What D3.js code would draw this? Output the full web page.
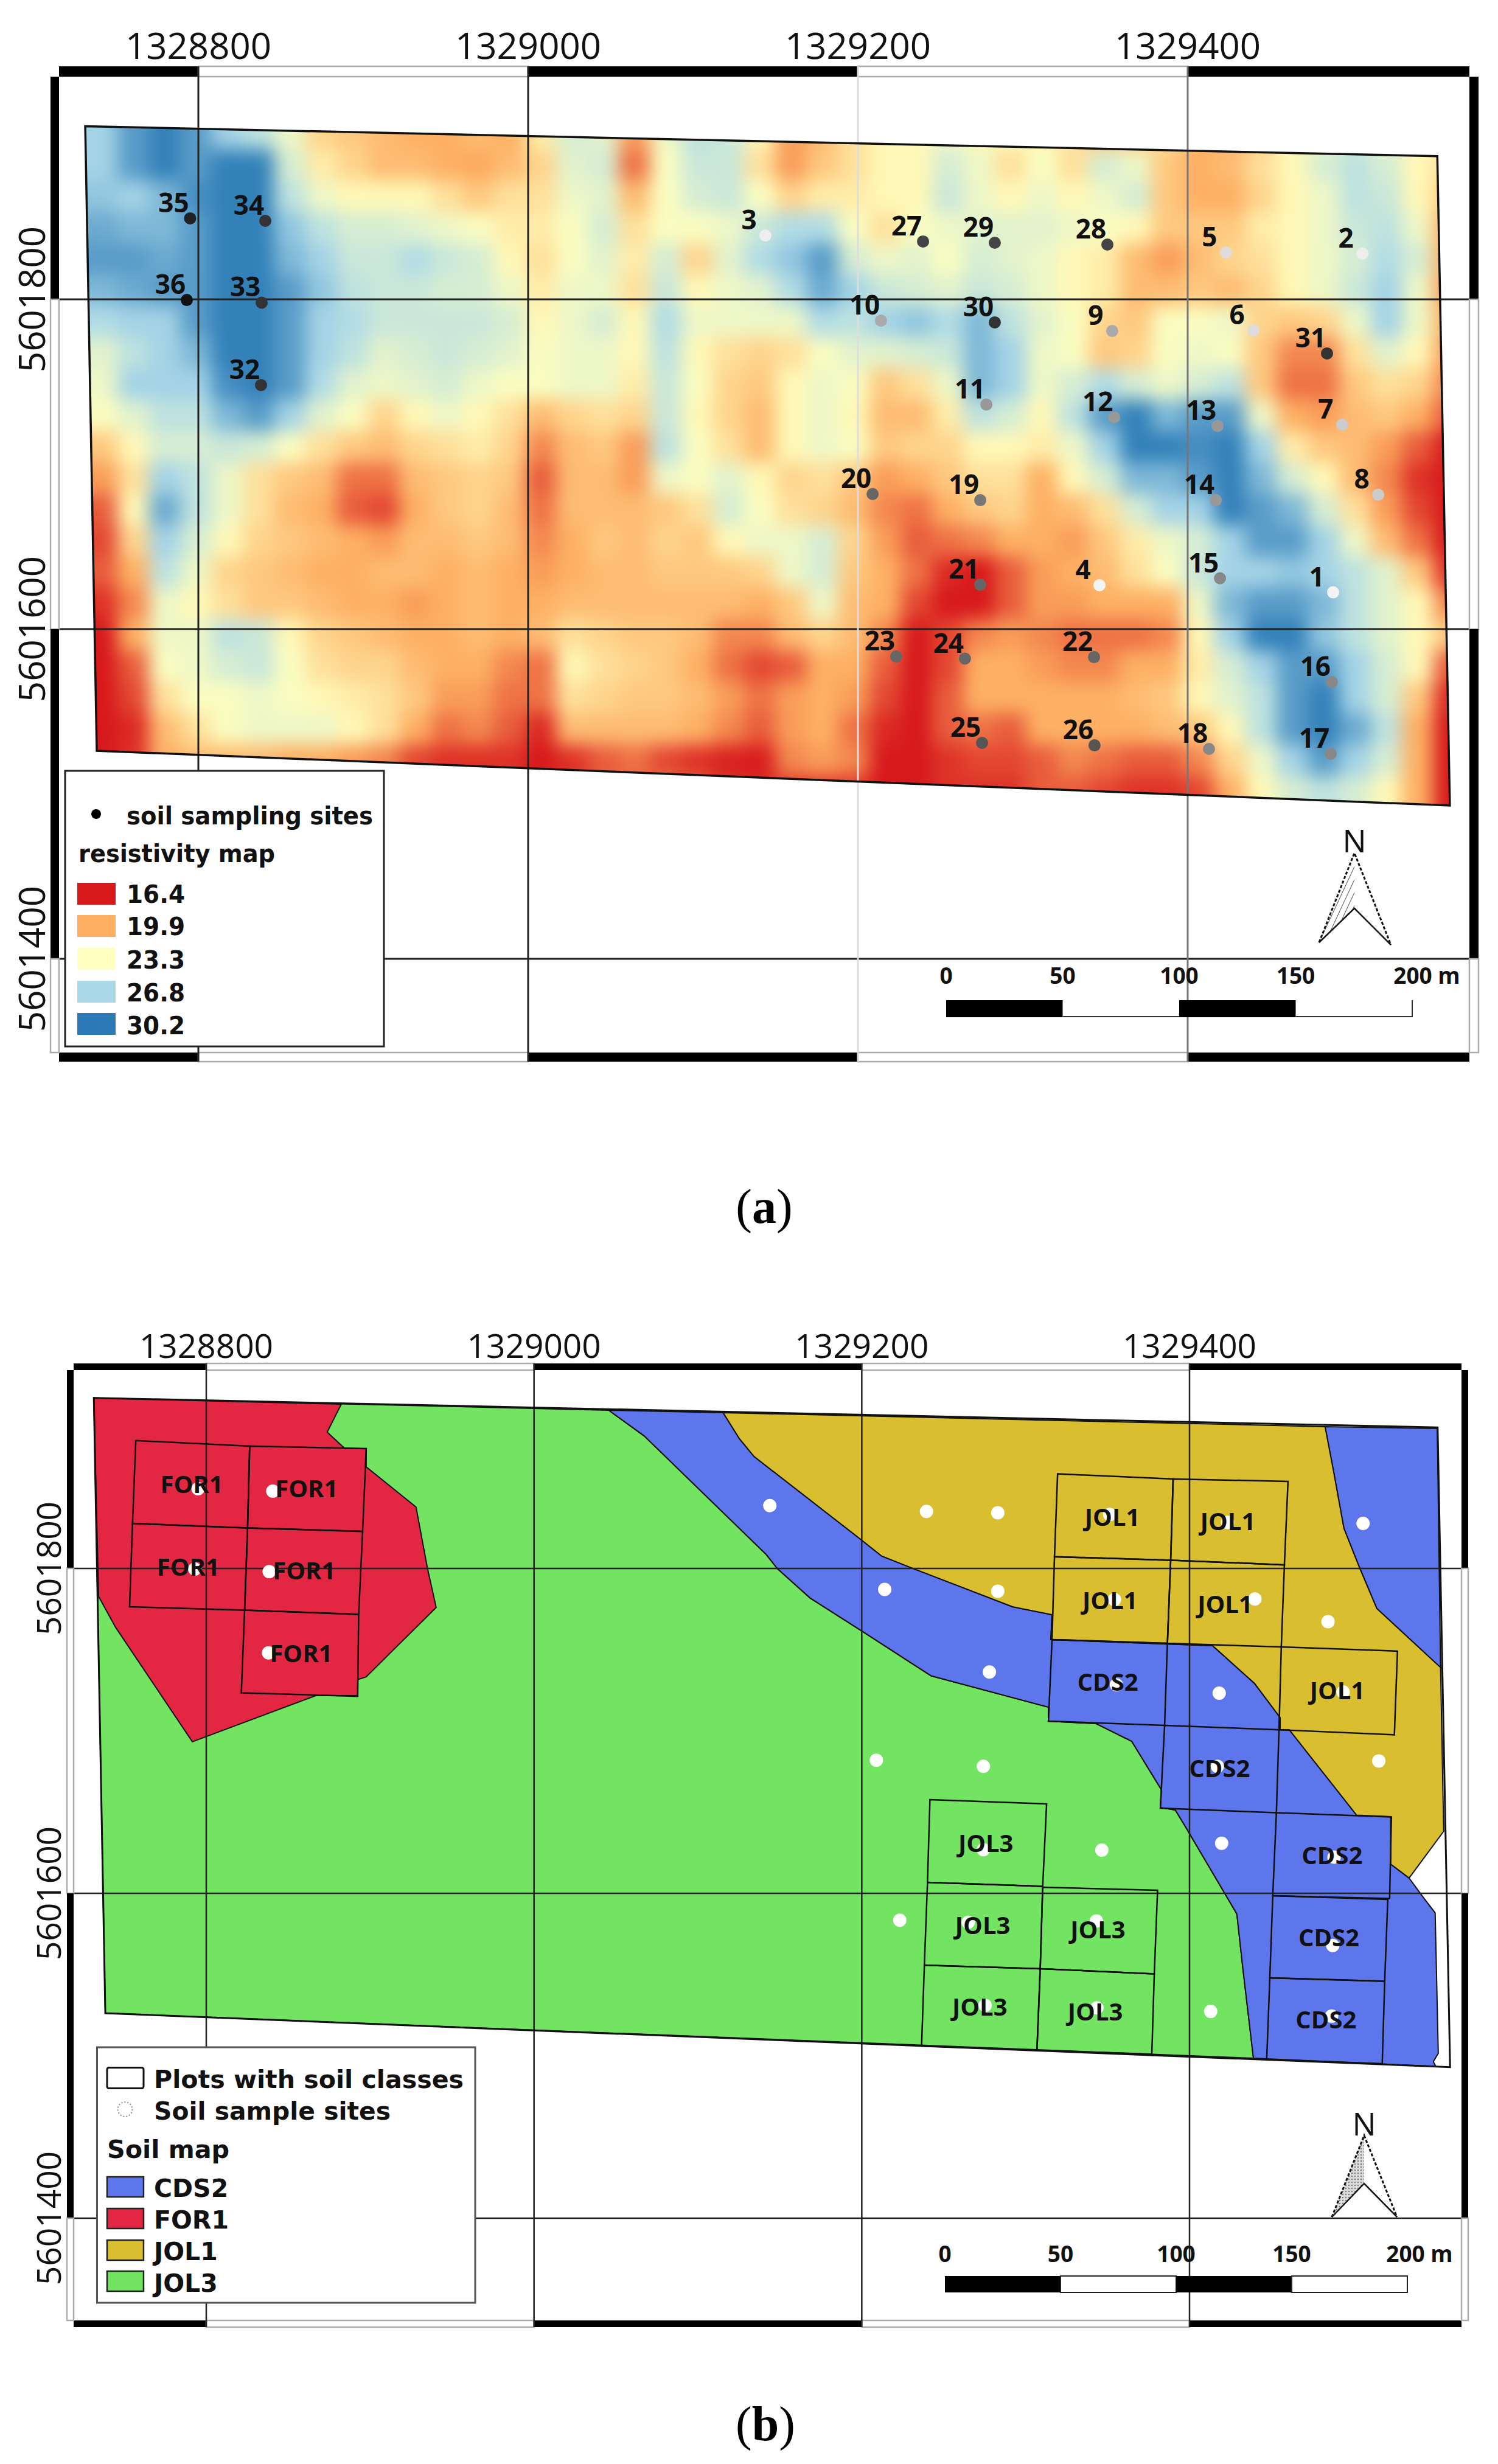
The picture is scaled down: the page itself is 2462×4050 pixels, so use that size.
<!DOCTYPE html>
<html><head><meta charset="utf-8">
<style>html,body{margin:0;padding:0;background:#fff}svg{display:block}</style>
<script src="https://cdnjs.cloudflare.com/ajax/libs/d3/7.8.5/d3.min.js"></script>
</head><body><div id="chart"></div>
<script>
// map coordinates are metres relative to these bases
const eastBase = 1328000, northBase = 5601000;
const eastTicks = [800,1000,1200,1400];
const northTicks = [800,600,400];

const legendBreaks = [16.4,19.9,23.3,26.8,30.2];
const legendColors = ['#d7191c','#fdae61','#ffffbf','#abd9e9','#2c7bb6'];

// resistivity raster: cell size, first cell corner, rows north to south
const cellM = 19, gridEast0 = 732, gridNorth0 = 910;
const resistivity = [
[27,29,30,29,27,26,24,21.5,21,20.5,20,20,20.5,20, 22.5,25,24.5,19.5,24,26,25.5,23,19.5,20.5,22,23,23, 24,23,23,23,22,21,21,22,20,20,21,23,24,25,24,23,23],
[27,29,30,29,30,30,25,22.5,21.5,20.5,20.5,20,19.8,20.5, 21.5,24.5,25,18.5,23.5,25.5,25.5,22,19.5,21,22,23,23, 25,24,22,23.5,22,25,24,21,20,20.5,22,23,25,26,25,23,22],
[27.5,27,28,29.5,30,30,26,24,23,23,23,22,21,22, 22,24,24.5,20.5,23.5,25,25.5,23.5,21.5,22.5,22.5,23,23, 25.5,24,23,24,23,24,25,21,20,20,21.5,23,24,26,25.5,23,21],
[28.5,28,28,29,30,30,27.5,26,25,25,24.5,24,23.5,22.5, 22.5,23.5,25,22,23.5,23.5,24,25.5,26.5,26.5,23.5,22,23.5, 24,24.5,24.5,24.5,24,23.5,23,21,21,21,22.5,23,24,25.5,26,24,20],
[29,29,28.5,29,30,30,28,27,25.5,25.5,26.5,25.5,25,23, 22,23.5,24.5,22.5,25,21.5,24.5,26.5,27.5,29,25,24,24.5, 23.5,25,24.5,24,23,22.5,20.5,19.5,20.5,21.5,22,23,24,25,26.5,25,20],
[28,28.5,29,29,30,30,29,27.5,26,25.5,25.5,25,25,24, 22.5,24,24,22,25.5,23,24,24.5,26.5,28.5,27,25.5,25, 24.5,25.5,25,24,23,22.5,20.5,20.5,21,20.5,21.5,23,24,25.5,27,24,19.5],
[26.5,27,27,29,30,30,29,27,26.5,25.5,25.5,25.5,25.5,25, 23,24,25,23,26.5,24,24,24,24,26.5,26,27,27.5, 26.5,28,26,24.5,23.5,21.5,21,23.5,23.5,24,21.5,21,21.5,24,27,24,20],
[24.5,26,27,28,30,30,29,27,26,24.5,25,25.5,25,24.5, 23.5,24,24,23,26,23,22,21.5,22,23.5,24.5,24.5,25, 25.5,28,27,24,23.5,21,21.5,23.5,24,23.5,21,19,19,22,24.5,23,19.5],
[24,27,27,27,29.5,30,29,26.5,24.5,24,24.5,25,24,23.5, 23.5,24,24,22.5,25.5,23.5,21.5,21,23,24,23.5,21,22, 24,28,27,24,25,26.5,25,24,25,26,21,18.5,18.5,21,22,21.5,19],
[23.5,24.5,26,26,28,29,27,24.5,23.5,21.5,23,24,23,22, 20.5,21.5,22,21.5,25.5,23,21.5,20.5,23,24,23,20.5,20.5, 22.5,26,25,23,26,29,30,28,29,29,24,20,19.5,20.5,21,20,18],
[21,23,25,25,25.5,25,23.5,22,21,20.5,21.5,22,22.5,21.5, 19,20.5,21,19.5,26,23.5,22,20.5,23,24,23.5,21,21.5, 21.5,23,23,22.5,24,27,30,30,29.5,30,27,22.5,21,20.5,19.5,18,16.5],
[19.5,22,27,26,24,22,21,20.5,18.5,18.5,20.5,21,21.5,21, 18,20.5,20.5,19.5,24,23.5,24.5,23,21.5,22,21,19.5,20, 21,22,22,20,23,25,28,28,29,30,28,25,23,20.5,19,17,16.4],
[18,23,28.5,26,24,22,20.5,20,18,17.5,20,21,21.5,20.5, 18.5,20.5,20.5,20.5,21,22,25,23.5,22,21.5,20.5,19,18.5, 20,21,21.5,20,20.5,22,25,27,27,30,29,28,25,22,19.5,17.5,16.4],
[17.5,21.5,27,25,23,21.5,21,20.5,20,19.5,20.5,20.5,21,20.5, 19,20,21,20.5,21.5,21,23,24,24,25,21.5,19.5,18, 18.5,19,20,20,19.5,21,22.5,24,25,27,29,29,27,24,20.5,18.5,16.4],
[18,20,26,24,21.5,21,20.5,20,20,20.5,20.5,20,20.5,20, 19.5,20,20.5,20.5,21,21,21,21.5,24,25,21,20,18.5, 16.8,16.4,18,19.5,20,20.5,22,23.5,25.5,27,27,27.5,27,26,24.5,21,17],
[17,19,24,23,22,21,21,20.5,20,20,19.5,20,20.5,20, 20,20.5,20.5,20.5,20.5,20.5,20.5,20,21,24,20.5,20,17.5, 16.4,16.4,18,19.5,19.5,20,20,20,24,28,29,29,28,26,24.5,23,19],
[16.4,20,24,24,26,25.5,23,21.5,21,20.5,20,20,20.5,20, 20.5,22,21.5,21,21,20.5,19,19,20.5,21.5,20.5,19,16.4, 17.5,19,19.5,19,18.5,18.5,18.5,19,23,27,30,30,27.5,26,24.5,23,21],
[16.4,18,23.5,24,25,25.5,23.5,22,21.5,21.5,20.5,20,20,19, 18.5,23,22,21.5,21,20,18.5,17.5,18,20,20,18,16.4, 17.5,20,20,19.5,19,19,20,20,22.5,25,27,29,29,27,25,23,18],
[16.4,17.5,22,23.5,23.5,24,23.5,23,22.5,22,21,19.5,19.5,18.5, 18.5,22,21.5,21,21,20.5,19.5,18.5,19.5,20,19.5,17.5,16.4, 18,20,20,20,20,20,20.5,21,23,24.5,26,29,30,27,25,21,16.8],
[16.4,16.8,20.5,22,23.5,24,24,24,23,22,20,18.5,19,18, 16.8,20.5,20.5,20.5,20.5,20,19,18,19.5,20,18.5,16.8,16.4, 18,18.5,18,20,20,20,20,20.5,21,23,26,29,30,28.5,26,20,16.4],
[16.4,17,20,20.5,20.5,20.5,20,20,19.5,19,17.5,17,17,17, 16.4,17,18,18.5,17.5,17,16.6,16.5,19,19.5,19,16.4,16.4, 17,17.5,17.5,18,19,18.5,18,18,19,21.5,24,27,29,27,25,20,16.4],
[16.4,17,20,20.5,20,20,20,20,19,18.5,17.5,17,17,17,16.4,17,18,18,18.5,18,17,16.8,17,17,17,16.4,16.4,17,17,17,18,18,17.5,17,17,17.5,20,23,25,26,25,23,20,16.4]
];

// field boundary and shared soil sampling sites [easting, northing]
const fieldOutline = [[731.4,905],[1551.4,886.8],[1559,493],[738.4,526.2]];
const siteIds = d3.range(1,37);
const siteEast = [1488.2,1505.9,1143.9,1346.5,1423.2,1439.9,1493.7,1515.5,1354.2,1214,1277.9,1355.4,1418.1,1417,1419.6,1487.4,1486.7,1412.9,1274.2,1208.9,1274.2,1343.2,1223.2,1264.9,1275.3,1343.5,1239.5,1351.3,1283,1283,1484.5,838,838.4,840.6,795,793];
const siteNorth = [622.3,827.7,838.7,626.6,828.4,781.2,724,681.5,780.8,787.1,736.2,728.4,723.2,678.2,630.8,567.9,524.4,527.3,678.2,681.9,626.9,583,583.4,582.1,531,529.5,835.1,833.2,834.3,786,767.2,748,798,847.6,849.1,799.6];
const siteShade = ['#f4f4f4','#eee','#eee','#f4f4f4','#ddd','#ddd','#ccc','#ccc','#aaa','#aaa','#999','#999','#999','#999','#888','#888','#888','#888','#777','#666','#666','#666','#666','#666','#555','#555','#444','#444','#444','#333','#333','#333','#333','#333','#222','#111'];

// soil map polygons
const edgeBlueGreen = [[1045.6,897.4],[1067.2,881.6],[1141.7,808.6],[1148.4,800],[1168.5,781.8],[1200.2,761.4],[1242.3,733.9],[1313.9,714.6],[1313.9,706],[1343,704.5],[1364.7,693.6],[1382.9,663.7],[1382.2,652.8],[1391.3,651.3],[1397,641.9],[1428.9,587.3],[1432.5,554.3],[1439,498.5]];
const edgeBlueYellow = [[1115.4,895.9],[1125.4,879.8],[1134.3,868.9],[1200.2,817.2],[1212.2,807.6],[1232.3,799.6],[1292,776.4],[1316.1,771.5],[1315.4,756.2],[1414.1,752.4],[1439.7,729.2],[1455.3,708.2],[1455.3,700.7],[1460.9,700.7],[1502,648.1],[1522.8,647.2],[1522.8,618],[1534,609.4]];
const polyJOL3 = [[731.4,905]].concat(edgeBlueGreen,[[738.4,526.2]]);
const polyCDS2a = [[1045.6,897.4]].concat(edgeBlueYellow,[[1543.2,596.8],[1549.9,588],[1551.8,501.5],[1548.8,496.4],[1550.3,493.4]],edgeBlueGreen.slice().reverse());
const polyCDS2b = [[1482.7,887.3],[1551.2,886.1],[1553.2,739],[1514.3,775.3],[1503.5,801.1],[1494.2,824.7],[1488,859.2]];
const polyJOL1 = [[1482.7,887.3],[1488,859.2],[1494.2,824.7],[1503.5,801.1],[1514.3,775.3],[1553.2,739],[1555.1,638.2]].concat(edgeBlueYellow.slice().reverse());
const polyFOR1 = [[731.4,905],[882.4,901.1],[873.8,883.9],[884.6,873.8],[897.6,873.8],[897.6,862.5],[928,837.8],[935,800],[940.3,776],[897.6,733.3],[892.4,731.5],[892.4,721.7],[866.8,721.7],[791.5,693.3],[744.7,763.7],[734.3,782.8]];
const soilClasses = ['CDS2','FOR1','JOL1','JOL3'];
const soilColors = ['#5e76ec','#e32642','#d9be30','#73e362'];

// plots with soil classes
const plotClass = ['FOR1','FOR1','FOR1','FOR1','FOR1','JOL1','JOL1','JOL1','JOL1','JOL1','CDS2','CDS2','CDS2','CDS2','CDS2','JOL3','JOL3','JOL3','JOL3','JOL3'];
const plotCorners = [
[[757,878.7],[826.5,875.3],[825.2,824.9],[755,827.7]],
[[826.5,875.3],[897.6,873.8],[895.4,822.8],[825.2,824.9]],
[[755,827.7],[825.2,824.9],[823.4,774.3],[753.2,776.4]],
[[825.2,824.9],[895.4,822.8],[893,771.7],[823.4,774.3]],
[[823.4,774.3],[893,771.7],[892.4,721.3],[821.4,723.4]],
[[1319.5,858.2],[1390,855.1],[1388.5,805.1],[1317.6,807.2]],
[[1390,855.1],[1460.1,853.6],[1457.9,802.2],[1388.5,805.1]],
[[1317.6,807.2],[1388.5,805.1],[1386.5,753.9],[1316.1,756.2]],
[[1388.5,805.1],[1457.9,802.2],[1456,751.7],[1386.5,753.9]],
[[1456,751.7],[1526.9,749.1],[1525,697.6],[1454.6,700.7]],
[[1316.1,756.2],[1386.5,753.9],[1384.8,703.4],[1313.9,706]],
[[1384.8,703.4],[1454.6,700.7],[1453,649.6],[1382.2,652.4]],
[[1453,649.6],[1523.2,647],[1522.1,596.8],[1450.8,598.5]],
[[1450.8,598.5],[1521,596.3],[1519.1,545.9],[1449,547.9]],
[[1449,547.9],[1519.1,545.9],[1517.6,495.1],[1447.1,497.8]],
[[1241.6,657.7],[1312.8,655.1],[1310.4,604.3],[1240.1,606.7]],
[[1240.1,606.7],[1310.4,604.3],[1308.9,553.6],[1238.2,555.8]],
[[1310.4,603.7],[1380.5,601.9],[1378.5,550.4],[1308.9,553.6]],
[[1238.2,555.8],[1308.9,553.6],[1306.9,503.4],[1236.5,506]],
[[1308.9,553.6],[1378.5,550.4],[1377,501],[1306.9,503.4]]
];
const plotLabelAt = [[791.1,851.7],[861.2,849.1],[789,800.7],[859.7,798.5],[857.9,747.6],[1352.9,831.3],[1423.4,828.8],[1351.5,780.3],[1421.7,778],[1490.2,724.9],[1350.1,729.8],[1418.3,676.9],[1487,623.2],[1485,572.5],[1483.3,522],[1275.7,630.7],[1273.8,580],[1344.1,577.7],[1272,529.8],[1342.5,527]];

const scaleTicks = [0,50,100,150,200];

const svg = d3.select('#chart').append('svg').attr('width',2462).attr('height',4050).attr('viewBox','0 0 2462 4050');
const defs = svg.append('defs');
defs.append('filter').attr('id','soft').attr('x','-5%').attr('y','-5%').attr('width','110%').attr('height','110%')
  .attr('color-interpolation-filters','sRGB')
  .append('feGaussianBlur').attr('stdDeviation',15);
const hatch = defs.append('pattern').attr('id','hatchA').attr('width',9).attr('height',9).attr('patternUnits','userSpaceOnUse').attr('patternTransform','rotate(25)');
hatch.append('line').attr('x1',0).attr('x2',0).attr('y1',0).attr('y2',9).attr('stroke','#555').attr('stroke-width',2);
const dots = defs.append('pattern').attr('id','hatchB').attr('width',5).attr('height',5).attr('patternUnits','userSpaceOnUse');
dots.append('rect').attr('width',5).attr('height',5).attr('fill','#ddd');
dots.append('circle').attr('cx',2).attr('cy',2).attr('r',1.2).attr('fill','#777');

const LABEL = '"Open Sans",sans-serif', TICK = '"Open Sans",sans-serif', LEGEND = '"DejaVu Sans",sans-serif';
const pathOf = (x,y) => pts => 'M'+pts.map(p=>x(p[0])+','+y(p[1])).join('L')+'Z';

function drawFrame(g,x,y,F,gridColors,tickFont,topBase,leftBase){
  northTicks.forEach(t=>g.append('line').attr('x1',F.ox0).attr('x2',F.ox1).attr('y1',y(t)).attr('y2',y(t)).attr('stroke','#222').attr('stroke-width',gridColors.w));
  const xs=[F.x0].concat(eastTicks.map(t=>x(t)),[F.x1]);
  const ys=[F.y0].concat(northTicks.map(t=>y(t)),[F.y1]);
  const seg=(a,b,c,d,on)=>g.append('rect').attr('x',a).attr('y',c).attr('width',b-a).attr('height',d-c)
     .attr('fill',on?'#000':'#fff').attr('stroke',on?'none':'#aaa').attr('stroke-width',2.5);
  d3.pairs(xs).forEach((p,i)=>{seg(p[0],p[1],F.oy0,F.y0,i%2==0);seg(p[0],p[1],F.y1,F.oy1,i%2==0);});
  d3.pairs(ys).forEach((p,i)=>{seg(F.ox0,F.x0,p[0],p[1],i%2==0);seg(F.x1,F.ox1,p[0],p[1],i%2==0);});
  eastTicks.forEach((t,i)=>g.append('line').attr('x1',x(t)).attr('x2',x(t)).attr('y1',F.oy0).attr('y2',F.oy1).attr('stroke',gridColors.x[i]).attr('stroke-width',gridColors.w));
  g.append('g').attr('font-family',TICK).attr('font-size',tickFont).attr('fill','#111').attr('text-anchor','middle')
    .selectAll('text').data(eastTicks).join('text').attr('x',d=>x(d)).attr('y',topBase).text(d=>eastBase+d);
  g.append('g').attr('font-family',TICK).attr('font-size',tickFont).attr('fill','#111').attr('text-anchor','middle')
    .selectAll('text').data(northTicks).join('text').attr('transform',d=>`translate(${leftBase},${y(d)}) rotate(-90)`).text(d=>northBase+d);
}

function scaleBar(g,bar,y0,y1,textY,filled,x200){
  const gb=g.append('g');
  d3.pairs(scaleTicks).forEach((p,i)=>{
    const on=i%2==0;
    if(on) gb.append('rect').attr('x',bar(p[0])).attr('y',y0).attr('width',bar(p[1])-bar(p[0])).attr('height',y1-y0).attr('fill','#000');
    else if(filled) gb.append('rect').attr('x',bar(p[0])).attr('y',y0).attr('width',bar(p[1])-bar(p[0])).attr('height',y1-y0).attr('fill','#fff').attr('stroke','#222').attr('stroke-width',2);
    else gb.append('path').attr('d',`M${bar(p[0])},${y1-1}H${bar(p[1])}`+(i==3?`V${y0}`:'')).attr('fill','none').attr('stroke','#333').attr('stroke-width',2);
  });
  gb.append('g').attr('font-family',LABEL).attr('font-weight','bold').attr('font-size',37).attr('fill','#111').attr('text-anchor','middle')
    .selectAll('text').data(scaleTicks).join('text').attr('x',d=>d==200?x200:bar(d)).attr('y',textY).text(d=>d==200?'200 m':d);
}

function northArrow(g,tip,left,notch,right,nY,fillId){
  g.append('path').attr('d',`M${tip}L${left}L${notch}Z`).attr('fill',`url(#${fillId})`);
  g.append('path').attr('d',`M${left}L${tip}L${right}`).attr('fill','none').attr('stroke','#111').attr('stroke-width',3).attr('stroke-dasharray','5 3');
  g.append('path').attr('d',`M${left}L${notch}L${right}`).attr('fill','none').attr('stroke','#111').attr('stroke-width',2.5);
  g.append('text').attr('x',notch[0]).attr('y',nY).attr('text-anchor','middle').attr('font-family',TICK).attr('font-size',52).attr('fill','#111').text('N');
}

function caption(letter,x,y){
  const t=svg.append('text').attr('x',x).attr('y',y).attr('text-anchor','middle').attr('font-family','"Liberation Serif",serif').attr('font-size',80).attr('fill','#000');
  t.append('tspan').text('(');t.append('tspan').attr('font-weight','bold').text(letter);t.append('tspan').text(')');
}

/* ---------- map (a) ---------- */
const xA=d3.scaleLinear().domain([800,1400]).range([326,1952]);
const yA=d3.scaleLinear().domain([800,400]).range([492,1576]);
const gA=svg.append('g');
const color=d3.scaleLinear().domain(legendBreaks).range(legendColors).clamp(true);
defs.append('clipPath').attr('id','fieldA').append('path').attr('d',pathOf(xA,yA)(fieldOutline));
const raster=gA.append('g').attr('clip-path','url(#fieldA)').append('g').attr('filter','url(#soft)');
const cw=Math.abs(xA(cellM)-xA(0)), ch=Math.abs(yA(cellM)-yA(0));
const ext=70;
resistivity.forEach((row,r)=>row.forEach((v,c)=>{
  let px=xA(gridEast0+c*cellM), py=yA(gridNorth0-r*cellM), w=cw+1, h=ch+1;
  if(c==0){px-=ext;w+=ext;} if(c==row.length-1){w+=ext;}
  if(r==0){py-=ext;h+=ext;} if(r==resistivity.length-1){h+=ext;}
  raster.append('rect').attr('x',px).attr('y',py).attr('width',w).attr('height',h).attr('fill',color(v));
}));
const FA={ox0:83,x0:97,x1:2415,ox1:2430,oy0:109,y0:126,y1:1730,oy1:1745};
drawFrame(gA,xA,yA,FA,{x:['#222','#222','#ddd','#777'],w:3},60,97,74);
gA.append('path').attr('d',pathOf(xA,yA)(fieldOutline)).attr('fill','none').attr('stroke','#111').attr('stroke-width',3.5);
const sitesA=gA.append('g');
siteIds.forEach((id,i)=>{
  const px=xA(siteEast[i]),py=yA(siteNorth[i]);
  sitesA.append('circle').attr('cx',px).attr('cy',py).attr('r',10).attr('fill',siteShade[i]);
  sitesA.append('text').attr('x',px-27).attr('y',py-10).attr('text-anchor','middle').attr('font-family',LABEL).attr('font-weight','bold').attr('font-size',44).attr('fill','#111').text(id);
});
// legend (a)
const lA=gA.append('g');
lA.append('rect').attr('x',107).attr('y',1267).attr('width',524).attr('height',453).attr('fill','#fff').attr('stroke','#222').attr('stroke-width',3);
lA.append('circle').attr('cx',158).attr('cy',1338).attr('r',8).attr('fill','#000');
const legTxt=(g,x,y,s,len,fs)=>{const t=g.append('text').attr('x',x).attr('y',y).attr('font-family',LEGEND).attr('font-weight','bold').attr('font-size',fs||40).attr('fill','#111').text(s);
  if(len)t.attr('textLength',len).attr('lengthAdjust','spacingAndGlyphs');return t;};
legTxt(lA,208,1355,'soil sampling sites',405);
legTxt(lA,129,1417,'resistivity map',323);
const legA_Y=[1451,1504,1558,1612,1665], legA_B=[1484,1537,1592,1646,1700];
legendBreaks.forEach((v,i)=>{
  lA.append('rect').attr('x',127).attr('y',legA_Y[i]).attr('width',63).attr('height',36).attr('fill',legendColors[i]);
  legTxt(lA,208,legA_B[i],v.toFixed(1),96);
});
scaleBar(gA,d3.scaleLinear().domain([0,200]).range([1555,2321]),1644,1672,1617,false,2345);
northArrow(gA,[2226,1402],[2168,1549],[2226,1493],[2286,1553],1401,'hatchA');
caption('a',1256,2010);

/* ---------- map (b) ---------- */
const xB=d3.scaleLinear().domain([800,1400]).range([339,1955]);
const yB=d3.scaleLinear().domain([800,400]).range([2578,3646]);
const gB=svg.append('g');
const pb=pathOf(xB,yB);
[[polyJOL3,3],[polyCDS2a,0],[polyCDS2b,0],[polyJOL1,2],[polyFOR1,1]].forEach(d=>
  gB.append('path').attr('d',pb(d[0])).attr('fill',soilColors[d[1]]).attr('stroke','#111').attr('stroke-width',2));
const FB={ox0:110,x0:121,x1:2402,ox1:2413,oy0:2241,y0:2252,y1:3814,oy1:3825};
drawFrame(gB,xB,yB,FB,{x:['#222','#222','#222','#222'],w:2.5},55,2232,100);
gB.append('path').attr('d',pb(fieldOutline)).attr('fill','none').attr('stroke','#111').attr('stroke-width',3);
plotCorners.forEach(q=>gB.append('path').attr('d',pb(q)).attr('fill','none').attr('stroke','#111').attr('stroke-width',2.5));
siteIds.forEach((id,i)=>gB.append('circle').attr('cx',xB(siteEast[i])).attr('cy',yB(siteNorth[i])).attr('r',11).attr('fill','#fff'));
plotLabelAt.forEach((p,i)=>gB.append('text').attr('x',xB(p[0])).attr('y',yB(p[1])+14).attr('text-anchor','middle')
  .attr('font-family',LABEL).attr('font-weight','bold').attr('font-size',40).attr('fill','#111').text(plotClass[i]));
// legend (b)
const lB=gB.append('g');
lB.append('rect').attr('x',159.5).attr('y',3365).attr('width',621.5).attr('height',420).attr('fill','#fff').attr('stroke','#555').attr('stroke-width',3);
lB.append('rect').attr('x',176).attr('y',3398.5).attr('width',60).attr('height',34).attr('rx',3).attr('fill','#fff').attr('stroke','#111').attr('stroke-width',3);
legTxt(lB,253,3432,'Plots with soil classes',509);
lB.append('circle').attr('cx',205.5).attr('cy',3467).attr('r',12).attr('fill','#fff').attr('stroke','#888').attr('stroke-width',2).attr('stroke-dasharray','2 3');
legTxt(lB,253,3484,'Soil sample sites',389);
legTxt(lB,176,3547,'Soil map',201);
const legB_Y=[3578,3630,3682,3733], legB_B=[3611,3663,3715,3767];
soilClasses.forEach((s,i)=>{
  lB.append('rect').attr('x',176).attr('y',legB_Y[i]).attr('width',60).attr('height',33).attr('fill',soilColors[i]).attr('stroke','#222').attr('stroke-width',2.5);
  legTxt(lB,253,legB_B[i],s,null,41);
});
scaleBar(gB,d3.scaleLinear().domain([0,200]).range([1553,2313]),3741,3768,3718,true,2333);
northArrow(gB,[2242,3510],[2189,3644],[2242,3589],[2296,3644],3510,'hatchB');
caption('b',1258,4011);
</script></body></html>
